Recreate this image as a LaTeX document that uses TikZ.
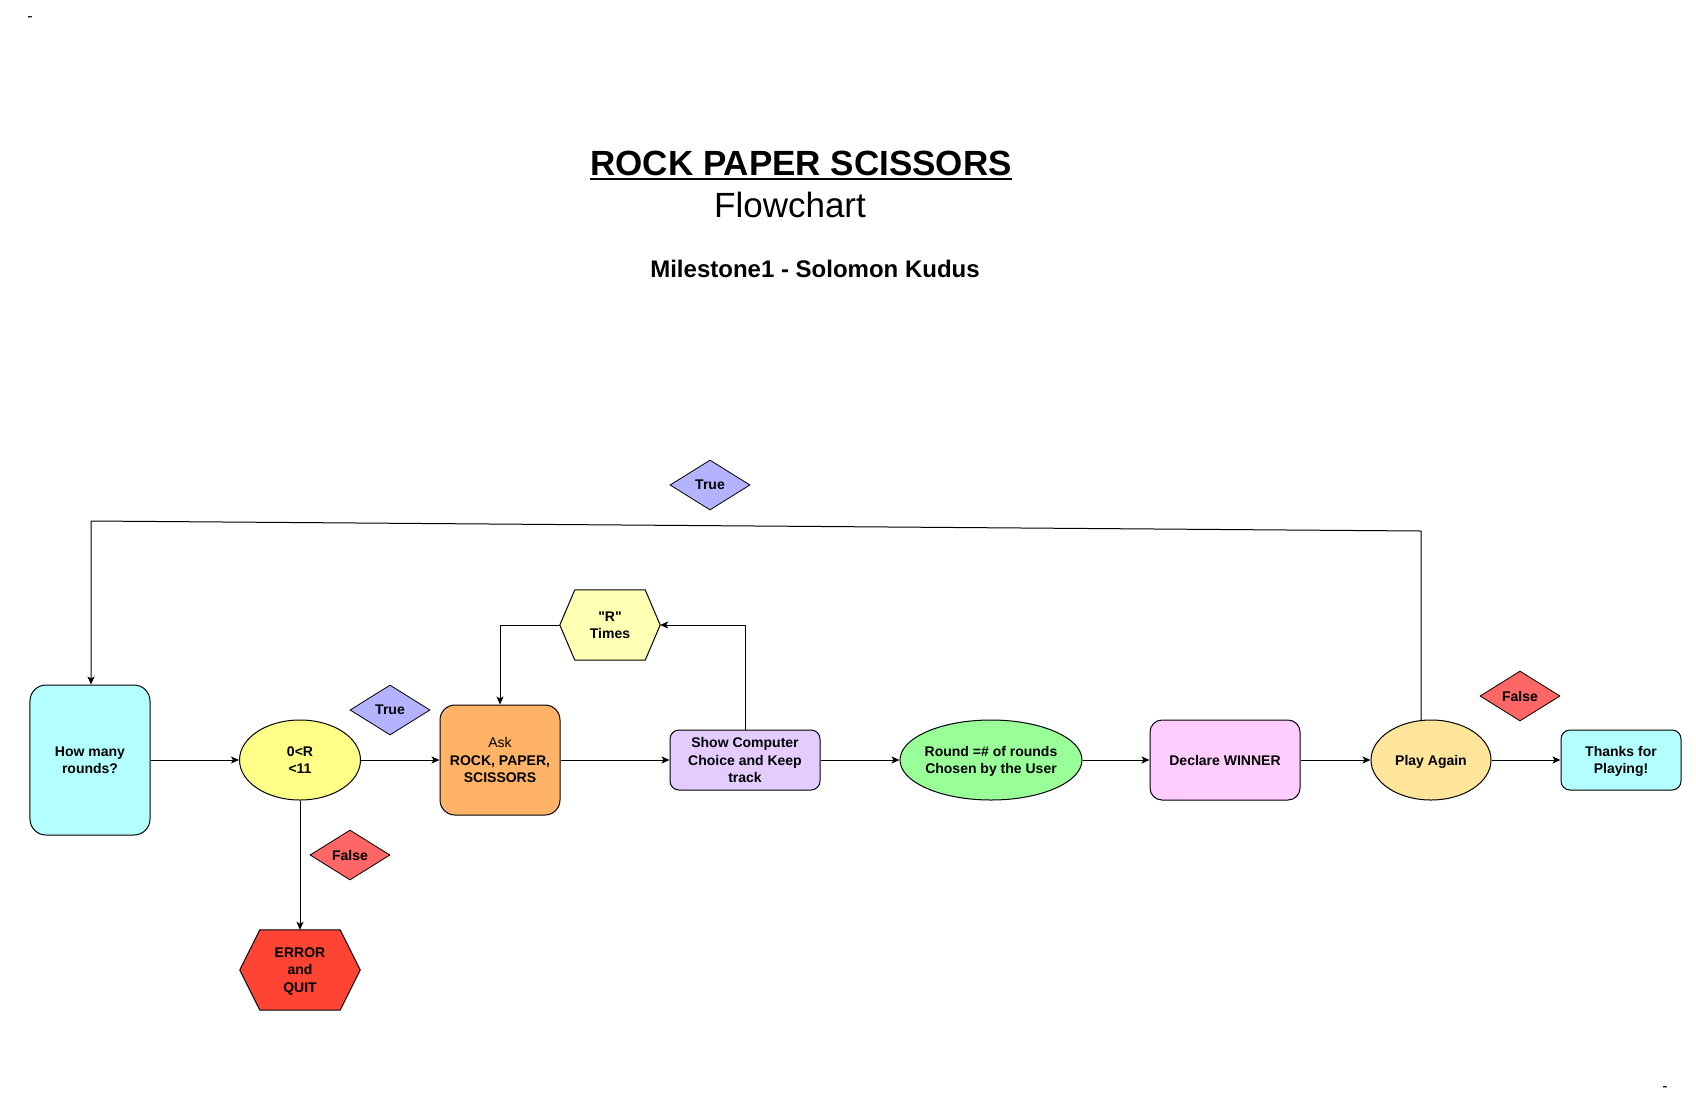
\documentclass[tikz,border=0pt]{standalone}
\usepackage{fontspec}
\setmainfont{Liberation Sans}
\newfontfamily\rawsans{Liberation Sans}[Ligatures=TeXOff]
\usetikzlibrary{shapes.geometric,arrows.meta,backgrounds}
\definecolor{cyanl}{HTML}{B3FFFF}
\definecolor{yell}{HTML}{FFFF88}
\definecolor{lav}{HTML}{B3B3FF}
\definecolor{orng}{HTML}{FFB366}
\definecolor{pyel}{HTML}{FFFFB3}
\definecolor{purp}{HTML}{E5CCFF}
\definecolor{grn}{HTML}{99FF99}
\definecolor{pink}{HTML}{FFCCFF}
\definecolor{gold}{HTML}{FFE599}
\definecolor{redl}{HTML}{FF6666}
\definecolor{redd}{HTML}{FF4433}
\tikzset{
  txt/.style={font=\fontsize{14bp}{17.5bp}\selectfont\bfseries, align=center, text=black, text depth=0pt},
  rbox/.style={txt, draw=black, line width=1bp, rectangle, inner sep=0pt},
  ell/.style={txt, draw=black, line width=1bp, ellipse, inner sep=0pt},
  dia/.style={txt, draw=black, line width=0.8bp, diamond, inner sep=0pt, minimum width=80bp, minimum height=50bp},
  hexn/.style={txt, rectangle, inner sep=0pt},
  arr/.style={draw=black, line width=1bp, -{Stealth[length=8bp,width=7bp,inset=2bp]}},
  ttl/.style={inner sep=0pt, anchor=base, text=black},
}
\begin{document}
\begin{tikzpicture}[x=1bp,y=-1bp]
\useasboundingbox (0,0) rectangle (1696,1101);
% corner marks
\node[ttl, font=\fontsize{16bp}{18bp}\selectfont] (m1) at (30,21) {-};
\node[ttl, font=\fontsize{16bp}{18bp}\selectfont] (m2) at (1665,1091) {-};
% titles
\node[ttl, font=\fontsize{35bp}{40bp}\selectfont\bfseries] (title) at (801,175) {ROCK PAPER SCISSORS};
\draw[line width=2.2bp] ([yshift=-4bp]title.base west) -- ([yshift=-4bp]title.base east);
\node[ttl, font=\fontsize{35bp}{40bp}\selectfont] (sub) at (790,217) {Flowchart};
\node[ttl, font=\fontsize{24bp}{28bp}\selectfont\bfseries] (auth) at (815,277) {Milestone1 - Solomon Kudus};
% nodes
\node[rbox, fill=cyanl, rounded corners=16bp, minimum width=120bp, minimum height=150bp] (hm) at (90,760) {How many\\rounds?};
\node[ell, fill=yell, minimum width=121bp, minimum height=80bp] (r11) at (300,760) {0<R\\<11};
\node[dia, fill=lav] (t1) at (390,710) {True};
\node[rbox, fill=orng, rounded corners=15bp, minimum width=120bp, minimum height=110bp] (ask) at (500,760) {{\mdseries Ask}\\ROCK, PAPER,\\SCISSORS};
\node[hexn, minimum width=100bp, minimum height=70bp] (rt) at (610,625) {{\rawsans\bfseries "R"}\\Times};
\node[rbox, fill=purp, rounded corners=9bp, minimum width=150bp, minimum height=60bp] (sc) at (745,760) {Show Computer\\Choice and Keep\\track};
\node[ell, fill=grn, inner xsep=-4bp, minimum width=182bp, minimum height=80bp] (rnd) at (991,760) {Round =\# of rounds\\Chosen by the User};
\node[rbox, fill=pink, rounded corners=12bp, minimum width=150bp, minimum height=80bp] (dw) at (1225,760) {Declare WINNER};
\node[ell, fill=gold, minimum width=120bp, minimum height=80bp] (pa) at (1431,760) {Play Again};
\node[dia, fill=redl] (f2) at (1520,696) {False};
\node[rbox, fill=cyanl, rounded corners=9bp, minimum width=120bp, minimum height=60bp] (th) at (1621,760) {Thanks for\\Playing!};
\node[dia, fill=lav] (t2) at (710,485) {True};
\node[dia, fill=redl] (f1) at (350,855) {False};
\node[hexn, minimum width=120bp, minimum height=80bp] (err) at (300,970) {ERROR\\and\\QUIT};
% background and hexagon outlines
\begin{scope}[on background layer]
\fill[white] (0,0) rectangle (1696,1101);
\draw[line width=1bp, fill=pyel] ([xshift=15bp]rt.north west) -- ([xshift=-15bp]rt.north east) -- (rt.east) -- ([xshift=-15bp]rt.south east) -- ([xshift=15bp]rt.south west) -- (rt.west) -- cycle;
\draw[line width=1bp, fill=redd] ([xshift=20bp]err.north west) -- ([xshift=-20bp]err.north east) -- (err.east) -- ([xshift=-20bp]err.south east) -- ([xshift=20bp]err.south west) -- (err.west) -- cycle;
\end{scope}
% connectors
\draw[arr] (hm.east) -- (r11.west);
\draw[arr] (r11.east) -- (ask.west);
\draw[arr] (ask.east) -- (sc.west);
\draw[arr] (sc.east) -- (rnd.west);
\draw[arr] (rnd.east) -- (dw.west);
\draw[arr] (dw.east) -- (pa.west);
\draw[arr] (pa.east) -- (th.west);
\draw[arr] (r11.south) -- (err.north);
\draw[arr] (sc.north) |- (rt.east);
\draw[arr] (rt.west) -| (ask.north);
\coordinate (lr) at (1421,531);
\coordinate (ll) at (91,521);
\coordinate (ps) at (1421,721);
\draw[arr] (ps) -- (lr) -- (ll) -- (hm.north -| ll);
\end{tikzpicture}
\end{document}
